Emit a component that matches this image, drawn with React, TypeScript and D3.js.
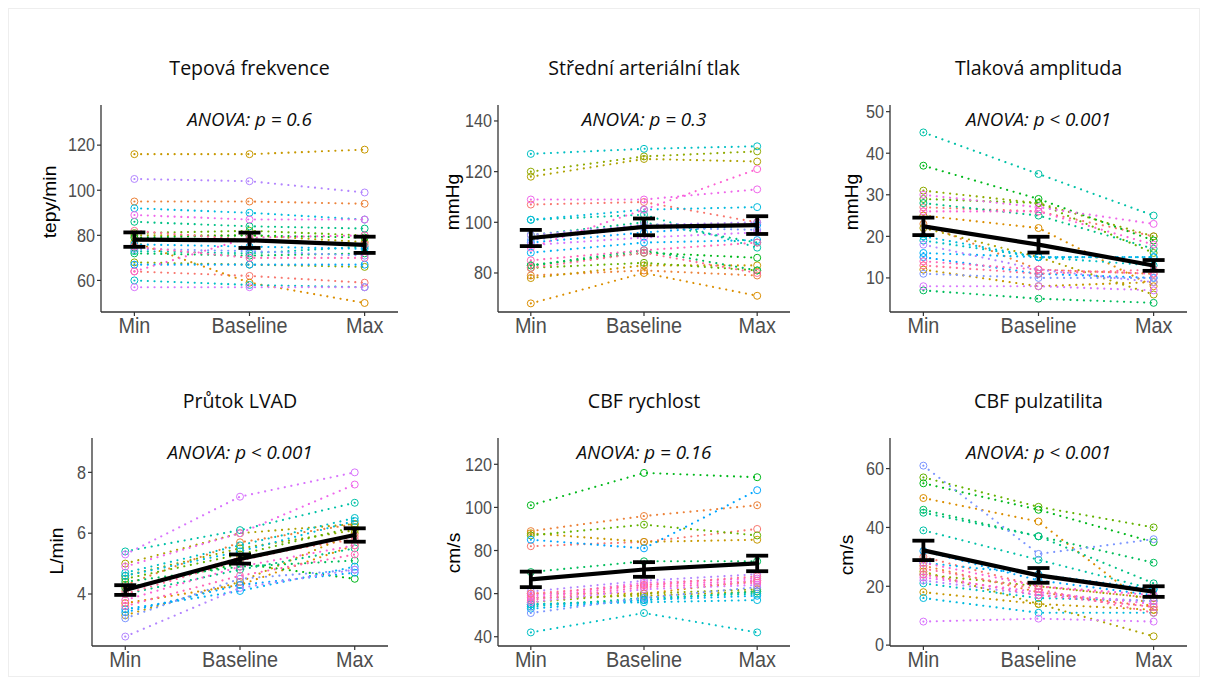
import * as d3 from "d3";

const timepoints = ["Min", "Baseline", "Max"];

// subject values, one entry per patient (same order in every panel)
const hrMin = [64, 95, 77, 116, 80, 68, 81, 79, 72, 86, 73, 60, 92, 76, 67, 74, 105, 57, 89, 64, 75, 82];
const hrBaseline = [62, 95, 59, 116, 80, 67, 82, 80, 71, 84, 72, 58, 90, 75, 67, 73, 104, 57, 87, 79, 70, 78];
const hrMax = [59, 94, 50, 118, 77, 66, 80, 79, 72, 83, 75, 57, 87, 74, 67, 71, 99, 57, 87, 80, 70, 76];
const hrMean = [78.1, 77.8, 75.8];
const hrSe = [3.2, 3.4, 3.6];

const mapMin = [107, 79, 68, 78, 118, 120, 82, 83, 83, 95, 101, 127, 101, 88, 92, 93, 95, 91, 109, 90, 85, 82];
const mapBaseline = [108, 81, 80, 83, 125, 126, 84, 88, 89, 100, 103, 129, 105, 92, 96, 98, 99, 94, 109, 105, 89, 88];
const mapMax = [100, 79, 71, 83, 124, 128, 81, 86, 81, 92, 90, 130, 106, 93, 99, 97, 100, 96, 113, 121, 92, 80];
const mapMean = [93.8, 98.2, 98.9];
const mapSe = [3.2, 3.3, 3.5];

const ppMin = [27, 23, 25, 12, 22, 31, 29, 37, 7, 28, 45, 19, 20, 16, 15, 11, 18, 8, 30, 26, 14, 13];
const ppBaseline = [26, 12, 22, 8, 15, 28, 28, 29, 5, 25, 35, 15, 15, 15, 11, 10, 12, 8, 27, 26, 12, 11];
const ppMax = [20, 11, 8, 9, 6, 20, 16, 19, 4, 17, 25, 13, 15, 15, 10, 10, 9, 7, 23, 18, 11, 12];
const ppMean = [22.4, 18.0, 13.0];
const ppSe = [2.1, 1.9, 1.3];

const flowMin = [4.1, 4.3, 3.7, 3.3, 5.0, 4.6, 4.5, 4.2, 4.4, 4.0, 5.4, 4.7, 4.6, 3.5, 3.4, 3.2, 2.6, 5.3, 4.9, 3.8, 3.6, 4.0];
const flowBaseline = [5.2, 5.7, 4.3, 4.4, 6.0, 5.5, 5.3, 5.0, 4.9, 4.8, 6.1, 5.6, 5.4, 4.1, 4.3, 4.5, 4.2, 7.2, 6.0, 4.9, 4.6, 5.1];
const flowMax = [5.8, 6.3, 5.6, 6.0, 6.3, 6.1, 6.2, 4.5, 5.1, 5.5, 7.0, 6.5, 6.4, 4.9, 4.7, 4.8, 4.8, 8.0, 7.6, 5.6, 5.3, 5.9];
const flowMean = [4.13, 5.15, 5.94];
const flowSe = [0.16, 0.15, 0.22];

const cbfvMin = [82, 89, 60, 88, 58, 56, 87, 101, 70, 55, 54, 42, 55, 53, 85, 51, 61, 56, 59, 58, 57, 60];
const cbfvBaseline = [84, 96, 60, 84, 59, 60, 92, 116, 75, 57, 58, 51, 56, 57, 81, 58, 66, 62, 65, 64, 63, 64];
const cbfvMax = [90, 101, 66, 85, 61, 62, 87, 114, 75, 61, 60, 42, 57, 59, 108, 63, 69, 64, 67, 66, 65, 68];
const cbfvMean = [66.6, 71.2, 74.0];
const cbfvSe = [3.6, 3.4, 3.6];

const piMin = [30, 27, 50, 18, 25, 24, 57, 55, 46, 45, 39, 21, 16, 28, 32, 61, 22, 8, 23, 28, 24, 26];
const piBaseline = [20, 18, 42, 14, 14, 20, 47, 46, 37, 37, 29, 16, 11, 24, 22, 31, 17, 9, 18, 20, 17, 19];
const piMax = [16, 13, 12, 12, 3, 16, 40, 35, 28, 21, 19, 15, 11, 19, 17, 36, 15, 8, 14, 17, 13, 11];
const piMean = [32.2, 23.7, 18.2];
const piSe = [3.3, 2.5, 1.8];

const titles = ["Tepová frekvence", "Střední arteriální tlak", "Tlaková amplituda", "Průtok LVAD", "CBF rychlost", "CBF pulzatilita"];
const anovaLabels = ["ANOVA: p = 0.6", "ANOVA: p = 0.3", "ANOVA: p < 0.001", "ANOVA: p < 0.001", "ANOVA: p = 0.16", "ANOVA: p < 0.001"];
const yLabels = ["tepy/min", "mmHg", "mmHg", "L/min", "cm/s", "cm/s"];
const yTicks = [
  [60, 80, 100, 120],
  [80, 100, 120, 140],
  [10, 20, 30, 40, 50],
  [4, 6, 8],
  [40, 60, 80, 100, 120],
  [0, 20, 40, 60],
];

const panels = [
  { values: [hrMin, hrBaseline, hrMax], mean: hrMean, se: hrSe, domain: [46, 137.8] },
  { values: [mapMin, mapBaseline, mapMax], mean: mapMean, se: mapSe, domain: [64.6, 146.3] },
  { values: [ppMin, ppBaseline, ppMax], mean: ppMean, se: ppSe, domain: [1.8, 51.6] },
  { values: [flowMin, flowBaseline, flowMax], mean: flowMean, se: flowSe, domain: [2.29, 9.13] },
  { values: [cbfvMin, cbfvBaseline, cbfvMax], mean: cbfvMean, se: cbfvSe, domain: [35.7, 132.2] },
  { values: [piMin, piBaseline, piMax], mean: piMean, se: piSe, domain: [-0.3, 70.4] },
];

// where each panel sits on the page
const frames = [
  { left: 101, right: 398, top: 105, bottom: 312, labelX: 50, labelY: 202 },
  { left: 498, right: 790, top: 105, bottom: 312, labelX: 453, labelY: 202 },
  { left: 890, right: 1187, top: 105, bottom: 312, labelX: 852, labelY: 202 },
  { left: 92, right: 388, top: 438, bottom: 646, labelX: 57, labelY: 551 },
  { left: 498, right: 790, top: 438, bottom: 646, labelX: 454, labelY: 553 },
  { left: 890, right: 1187, top: 438, bottom: 646, labelX: 847, labelY: 555 },
];

// ggplot2-style hue colour (polar LUV -> sRGB)
function hueColor(h: number, c = 100, l = 65) {
  const hr = (h * Math.PI) / 180;
  const u = c * Math.cos(hr);
  const v = c * Math.sin(hr);
  const Xn = 95.047, Yn = 100, Zn = 108.883;
  const den = Xn + 15 * Yn + 3 * Zn;
  const un = (4 * Xn) / den;
  const vn = (9 * Yn) / den;
  const Y = Yn * Math.pow((l + 16) / 116, 3);
  const up = u / (13 * l) + un;
  const vp = v / (13 * l) + vn;
  const X = (Y * 9 * up) / (4 * vp);
  const Z = (Y * (12 - 3 * up - 20 * vp)) / (4 * vp);
  const x = X / 100, y = Y / 100, z = Z / 100;
  const r = 3.2404542 * x - 1.5371385 * y - 0.4985314 * z;
  const g = -0.969266 * x + 1.8760108 * y + 0.041556 * z;
  const b = 0.0556434 * x - 0.2040259 * y + 1.0572252 * z;
  const gam = (t: number) => (t <= 0.0031308 ? 12.92 * t : 1.055 * Math.pow(t, 1 / 2.4) - 0.055);
  return d3.rgb(gam(r) * 255, gam(g) * 255, gam(b) * 255).formatHex();
}

const nSubjects = hrMin.length;
const subjectColors = d3.range(nSubjects).map((i) => hueColor(15 + (360 * i) / nSubjects));

const axisFont = "'Liberation Sans', Arial, sans-serif";
const titleFont = "'Open Sans', Lato, sans-serif";
const stretch = 1.1; // text in the picture is slightly taller than wide

function Panel({ idx }: { idx: number }) {
  const p = panels[idx];
  const f = frames[idx];
  const x = d3.scalePoint<string>().domain(timepoints).range([f.left, f.right]).padding(0.29);
  const y = d3.scaleLinear().domain(p.domain).range([f.bottom, f.top]);
  const line = d3
    .line<number>()
    .x((_, i) => x(timepoints[i]) as number)
    .y((v) => y(v));
  const cap = 11;

  return (
    <g>
      <text
        transform={`translate(${(f.left + f.right) / 2},${f.top - 30}) scale(1,1.05)`}
        textAnchor="middle"
        fontFamily={titleFont}
        fontSize={19.6}
        fill="#0d0d0d"
      >
        {titles[idx]}
      </text>
      <text
        transform={`translate(${x("Baseline")},${f.top + 21})`}
        textAnchor="middle"
        fontFamily={titleFont}
        fontStyle="italic"
        fontSize={18.8}
        fill="#0d0d0d"
      >
        {anovaLabels[idx]}
      </text>

      {/* subjects */}
      {d3.range(nSubjects).map((s) => {
        const vals = timepoints.map((_, t) => p.values[t][s]);
        return (
          <g key={s}>
            <path d={line(vals) || ""} fill="none" stroke={subjectColors[s]} strokeWidth={2.1} strokeDasharray="0.1 6.6" strokeLinecap="round" />
            {vals.map((v, t) => (
              <circle key={t} cx={x(timepoints[t])} cy={y(v)} r={3.5} fill="none" stroke={subjectColors[s]} strokeWidth={1} />
            ))}
          </g>
        );
      })}

      {/* mean +- se */}
      <path d={line(p.mean) || ""} fill="none" stroke="#000" strokeWidth={4.2} />
      {p.mean.map((m, t) => {
        const cx = x(timepoints[t]) as number;
        const lo = y(m - p.se[t]);
        const hi = y(m + p.se[t]);
        return (
          <g key={t} stroke="#000" strokeWidth={3.8}>
            <line x1={cx} x2={cx} y1={lo} y2={hi} />
            <line x1={cx - cap} x2={cx + cap} y1={lo} y2={lo} />
            <line x1={cx - cap} x2={cx + cap} y1={hi} y2={hi} />
          </g>
        );
      })}

      {/* axes */}
      <line x1={f.left} x2={f.left} y1={f.top} y2={f.bottom} stroke="#333" strokeWidth={1.3} />
      <line x1={f.left} x2={f.right} y1={f.bottom} y2={f.bottom} stroke="#333" strokeWidth={1.3} />
      {yTicks[idx].map((t) => (
        <g key={t}>
          <line x1={f.left - 4} x2={f.left} y1={y(t)} y2={y(t)} stroke="#333" strokeWidth={1.2} />
          <text
            transform={`translate(${f.left - 6},${y(t) + 6.3}) scale(1,${stretch})`}
            textAnchor="end"
            fontFamily={axisFont}
            fontSize={16.2}
            fill="#4d4d4d"
          >
            {t}
          </text>
        </g>
      ))}
      {timepoints.map((t) => (
        <g key={t}>
          <line x1={x(t)} x2={x(t)} y1={f.bottom} y2={f.bottom + 4} stroke="#333" strokeWidth={1.2} />
          <text
            transform={`translate(${x(t)},${f.bottom + 21}) scale(1,${stretch})`}
            textAnchor="middle"
            fontFamily={axisFont}
            fontSize={19.8}
            fill="#4d4d4d"
          >
            {t}
          </text>
        </g>
      ))}
      <text
        transform={`translate(${f.labelX},${f.labelY}) rotate(-90) scale(${stretch},1)`}
        textAnchor="middle"
        dy="0.35em"
        fontFamily={axisFont}
        fontSize={17.5}
        fill="#000"
      >
        {yLabels[idx]}
      </text>
    </g>
  );
}

export default function App() {
  return (
    <svg width={1213} height={688} style={{ position: "absolute", left: 0, top: 0, background: "#fff" }}>
      <rect x={0} y={0} width={1213} height={688} fill="#fff" />
      <rect x={8.5} y={8.5} width={1191} height={668} fill="none" stroke="#eeeeee" strokeWidth={1} />
      {panels.map((_, i) => (
        <Panel key={i} idx={i} />
      ))}
    </svg>
  );
}
